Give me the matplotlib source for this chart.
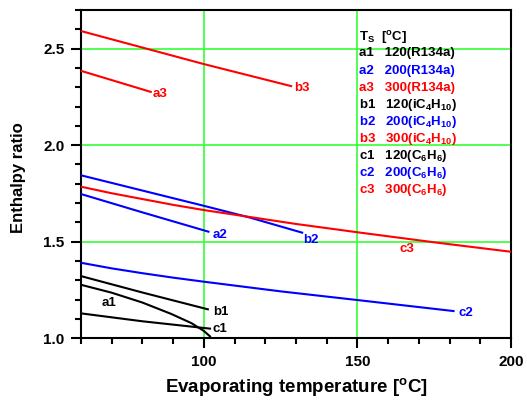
import matplotlib
matplotlib.use("Agg")
import matplotlib.pyplot as plt
from matplotlib.ticker import MultipleLocator

plt.rcParams['font.family'] = ['Liberation Sans', 'DejaVu Sans']
plt.rcParams['font.weight'] = 'bold'
plt.rcParams['mathtext.fontset'] = 'custom'
plt.rcParams['mathtext.rm'] = 'Liberation Sans:bold'
plt.rcParams['mathtext.it'] = 'Liberation Sans:bold'
plt.rcParams['mathtext.bf'] = 'Liberation Sans:bold'
plt.rcParams['mathtext.default'] = 'rm'

# curve data: evaporating temperature [C] -> enthalpy ratio
a1_t = [60, 70, 80, 89.4, 96, 100, 102]
a1_y = [1.277, 1.236, 1.185, 1.126, 1.078, 1.038, 1.010]
a2_t = [60, 80, 101.5]
a2_y = [1.747, 1.652, 1.552]
a3_t = [60, 82.7]
a3_y = [2.385, 2.276]
b1_t = [60, 80, 101.3]
b1_y = [1.322, 1.237, 1.150]
b2_t = [60, 80, 100, 115, 132]
b2_y = [1.844, 1.765, 1.686, 1.625, 1.547]
b3_t = [60, 100, 128.4]
b3_y = [2.591, 2.420, 2.306]
c1_t = [60, 80, 102]
c1_y = [1.129, 1.088, 1.050]
c2_t = [60, 70, 80, 90, 100, 125, 150, 181.3]
c2_y = [1.391, 1.362, 1.337, 1.314, 1.293, 1.243, 1.198, 1.141]
c3_t = [60, 70, 80, 90, 100, 130, 150, 175, 200]
c3_y = [1.785, 1.751, 1.721, 1.691, 1.664, 1.592, 1.549, 1.497, 1.448]

curve_names = ['a1', 'a2', 'a3', 'b1', 'b2', 'b3', 'c1', 'c2', 'c3']
curve_t = [a1_t, a2_t, a3_t, b1_t, b2_t, b3_t, c1_t, c2_t, c3_t]
curve_y = [a1_y, a2_y, a3_y, b1_y, b2_y, b3_y, c1_y, c2_y, c3_y]
# label anchor (left edge, center) for each curve
label_x = [66.6, 102.9, 83.4, 102.9, 132.5, 129.5, 102.9, 183.0, 163.8]
label_y = [1.181, 1.533, 2.265, 1.138, 1.509, 2.297, 1.048, 1.133, 1.461]

source_temps = ['120', '200', '300']
fluids = ['R134a', 'iC$_4$H$_{10}$', 'C$_6$H$_6$']

colors = ['black', '#0000ff', '#ff0000']
grid_green = '#33ff33'

fig = plt.figure(figsize=(5.27, 4.0), dpi=100)
ax = fig.add_axes([0.1537, 0.1543, 0.8159, 0.8207])

for i, name in enumerate(curve_names):
    col = colors[i % 3]
    ax.plot(curve_t[i], curve_y[i], color=col, lw=1.5, zorder=3)
    ax.text(label_x[i], label_y[i], name, color=col, fontsize=9.5,
            fontweight='bold', ha='left', va='center', zorder=4)

# legend block as plain text
ax.text(150.6, 2.558, 'T$_S$  [$^o$C]', color='black', fontsize=9.5,
        ha='left', va='center')
row = 0
for j, fl in enumerate(fluids):
    for k, ts in enumerate(source_temps):
        name = curve_names[j * 3 + k]
        ax.text(150.6, 2.475 - 0.0885 * row, f'{name}   {ts}({fl})',
                color=colors[k], fontsize=9.5, ha='left', va='center')
        row += 1

for gx in [100, 150]:
    ax.axvline(gx, color=grid_green, lw=1.2, zorder=1)
for gy in [1.5, 2.0, 2.5]:
    ax.axhline(gy, color=grid_green, lw=1.2, zorder=1)

ax.set_xlim(60, 200)
ax.set_ylim(1.0, 2.7)
ax.xaxis.set_minor_locator(MultipleLocator(10))
ax.yaxis.set_minor_locator(MultipleLocator(0.1))
ax.set_xticks([100, 150, 200])
ax.set_xticklabels(['100', '150', '200'])
ax.set_yticks([1.0, 1.5, 2.0, 2.5])
ax.set_yticklabels(['1.0', '1.5', '2.0', '2.5'])
ax.tick_params(which='major', direction='out', length=7, width=1.5,
               labelsize=11, pad=5)
ax.tick_params(which='minor', direction='out', length=4, width=1.5)
ax.tick_params(top=False, right=False)
for spine in ax.spines.values():
    spine.set_linewidth(1.5)

ax.set_xlabel('Evaporating temperature [$^o$C]', fontsize=13.5,
              fontweight='bold', va='center')
ax.xaxis.set_label_coords(0.5, -0.147)
ax.set_ylabel('Enthalpy ratio', fontsize=12, fontweight='bold', va='center')
ax.yaxis.set_label_coords(-0.145, 0.49)

fig.savefig('out.png', dpi=100)
